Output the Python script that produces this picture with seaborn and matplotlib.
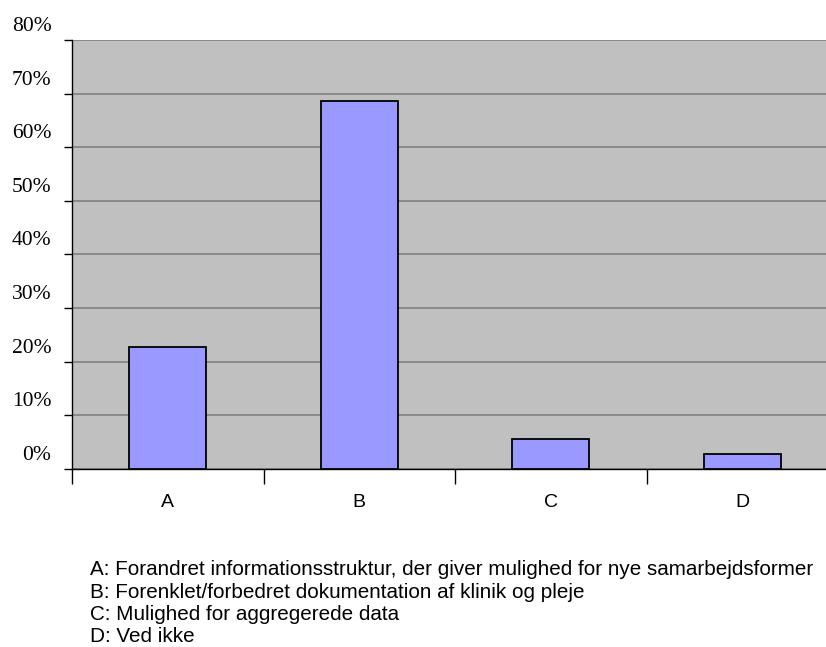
import matplotlib
matplotlib.use("Agg")
import matplotlib.pyplot as plt
import matplotlib.transforms as mtransforms
import seaborn as sns
import pandas as pd
from matplotlib.ticker import FixedLocator

categories = ["A", "B", "C", "D"]
values = [0.227, 0.687, 0.056, 0.028]
ytick_values = [0.0, 0.1, 0.2, 0.3, 0.4, 0.5, 0.6, 0.7, 0.8]
ytick_labels = ["0%", "10%", "20%", "30%", "40%", "50%", "60%", "70%", "80%"]
legend_lines = [
    "A: Forandret informationsstruktur, der giver mulighed for nye samarbejdsformer",
    "B: Forenklet/forbedret dokumentation af klinik og pleje",
    "C: Mulighed for aggregerede data",
    "D: Ved ikke",
]

df = pd.DataFrame({"cat": categories, "val": values})

sns.set_style("white")
plt.rcParams["text.color"] = "black"
plt.rcParams["xtick.color"] = "black"
plt.rcParams["ytick.color"] = "black"
fig = plt.figure(figsize=(8.26, 6.47), dpi=100)
W, H = 826, 647
ax = fig.add_axes([72 / W, 1 - 469 / H, (838 - 72) / W, (469 - 40) / H])
ax.set_facecolor("#C0C0C0")

sns.barplot(data=df, x="cat", y="val", color="#9999FF", width=0.40,
            edgecolor="black", linewidth=1.3, saturation=1, ax=ax, zorder=3)

ax.set_xlim(-0.5, 3.5)
ax.set_ylim(0, 0.8)
ax.set_xlabel("")
ax.set_ylabel("")

for s in ["top", "right"]:
    ax.spines[s].set_visible(False)
ax.spines["left"].set_color("black")
ax.spines["bottom"].set_color("black")
ax.spines["left"].set_linewidth(1.0)
ax.spines["bottom"].set_linewidth(1.0)

ax.set_yticks(ytick_values)
ax.set_yticklabels(ytick_labels, fontfamily="Liberation Serif", fontsize=15.5, color="black")
ax.tick_params(axis="y", which="major", left=True, direction="out", length=5.8, width=1,
               color="black", pad=9)
ax.yaxis.grid(True, color="#808080", linewidth=1.2, zorder=0)
ax.set_axisbelow(True)

ax.set_xticks(range(len(categories)))
ax.set_xticklabels(categories, fontfamily="Liberation Sans", fontsize=14, color="black")
ax.tick_params(axis="x", which="major", bottom=True, length=0, pad=17.8)
ax.xaxis.set_minor_locator(FixedLocator([-0.5, 0.5, 1.5, 2.5, 3.5]))
ax.tick_params(axis="x", which="minor", bottom=True, direction="out", length=11, width=1,
               color="black")

offset = mtransforms.ScaledTranslation(0, 16 / 100, fig.dpi_scale_trans)
for lab in ax.get_yticklabels():
    lab.set_transform(lab.get_transform() + offset)

for i, line in enumerate(legend_lines):
    fig.text(90 / W, 1 - (569.5 + i * 22.5) / H, line, fontfamily="Liberation Sans",
             fontsize=14.85, va="center", ha="left", color="black")

fig.savefig("out.png", dpi=100)
